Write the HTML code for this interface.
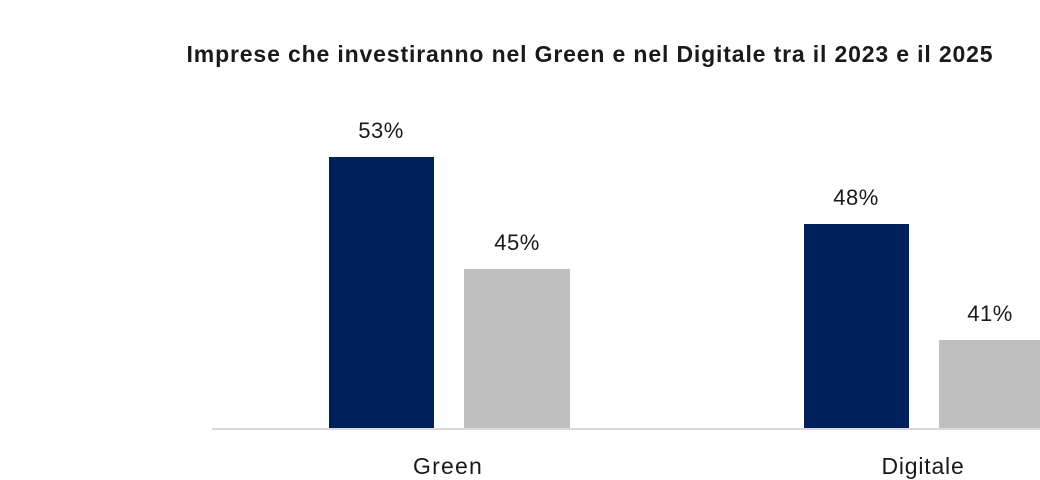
<!DOCTYPE html>
<html><head><style>
html,body{margin:0;padding:0;background:#fff;}
body{width:1040px;height:478px;position:relative;overflow:hidden;font-family:"Liberation Sans",sans-serif;color:#1a1a1a;}
.t{position:absolute;white-space:nowrap;}
.b{position:absolute;}
</style></head><body>
<div class="t" style="left:0;width:1180px;text-align:center;top:41px;font-size:23px;letter-spacing:0.85px;font-weight:bold;">Imprese che investiranno nel Green e nel Digitale tra il 2023 e il 2025</div>
<div class="b" style="left:329px;top:157px;width:105px;height:272px;background:#00205b"></div>
<div class="b" style="left:464px;top:269px;width:106px;height:160px;background:#bfbfbf"></div>
<div class="b" style="left:804px;top:224px;width:105px;height:205px;background:#00205b"></div>
<div class="b" style="left:939px;top:340px;width:101px;height:89px;background:#bfbfbf"></div>
<div class="b" style="left:212px;top:428px;width:828px;height:2px;background:#d9d9d9"></div>
<div class="t" style="left:331px;width:100px;text-align:center;top:118px;font-size:22px;letter-spacing:0.5px;">53%</div>
<div class="t" style="left:467px;width:100px;text-align:center;top:230px;font-size:22px;letter-spacing:0.5px;">45%</div>
<div class="t" style="left:806px;width:100px;text-align:center;top:185px;font-size:22px;letter-spacing:0.5px;">48%</div>
<div class="t" style="left:940px;width:100px;text-align:center;top:301px;font-size:22px;letter-spacing:0.5px;">41%</div>
<div class="t" style="left:398px;width:100px;text-align:center;top:453px;font-size:23px;letter-spacing:1.2px;">Green</div>
<div class="t" style="left:863px;width:120px;text-align:center;top:453px;font-size:23px;letter-spacing:0.8px;">Digitale</div>
</body></html>
